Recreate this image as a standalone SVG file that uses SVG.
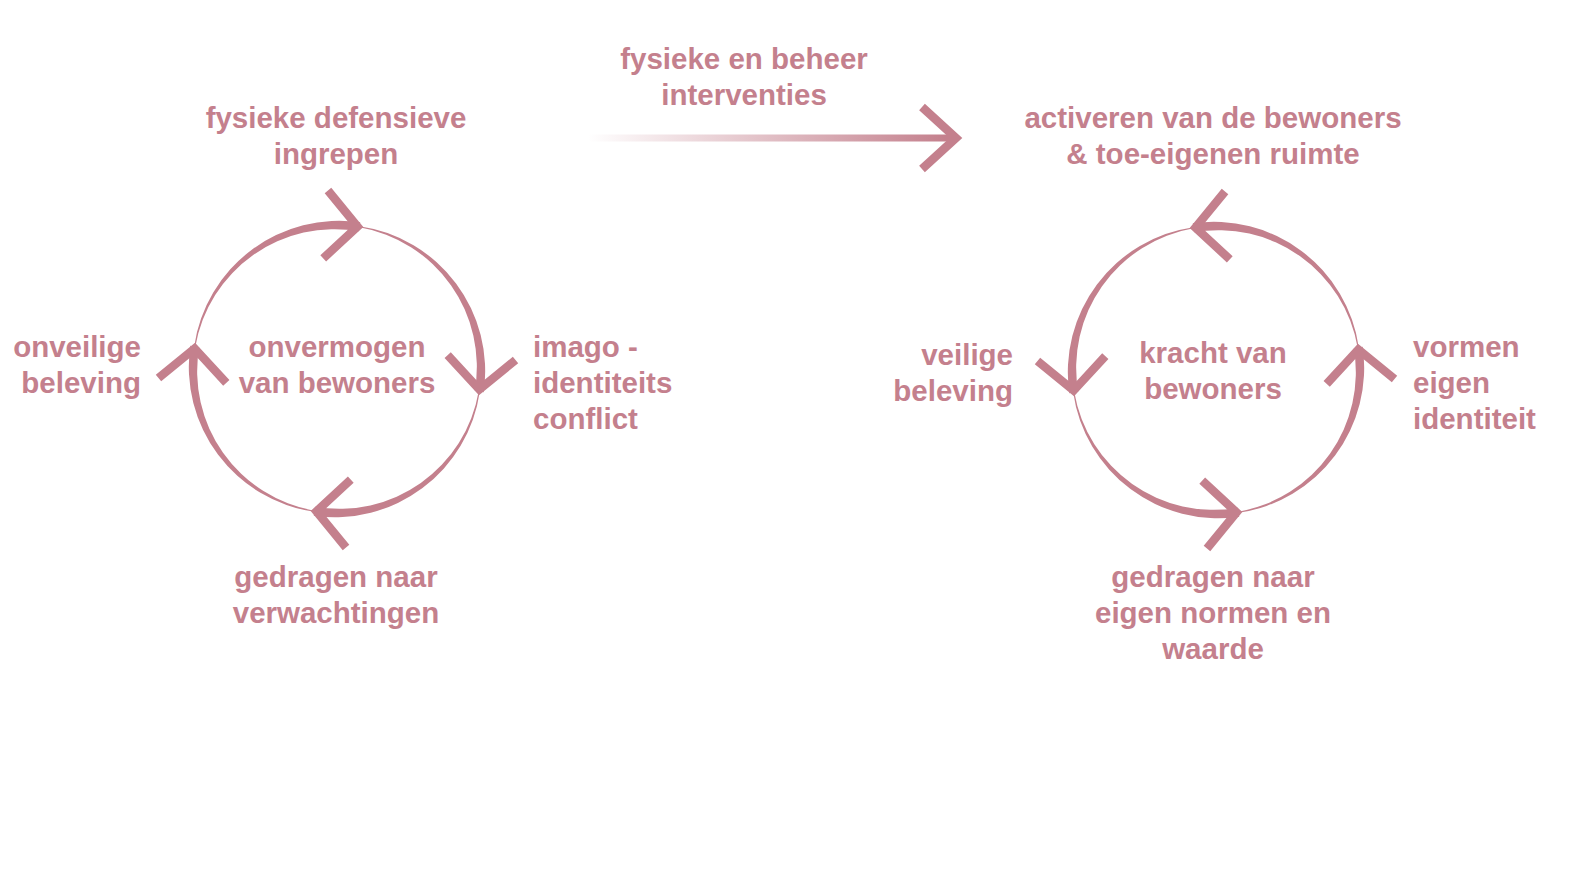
<svg xmlns="http://www.w3.org/2000/svg" xmlns:xlink="http://www.w3.org/1999/xlink" width="1572" height="873" viewBox="0 0 1572 873">
<style>
.t{font-family:"Liberation Sans",Arial,sans-serif;font-weight:bold;font-size:29.5px;fill:#c4808d}
.m{text-anchor:middle}
.e{text-anchor:end}
.arc{fill:#c4808d;stroke:none}
.chev{fill:none;stroke:#c4808d;stroke-width:8.5;stroke-linejoin:miter;stroke-linecap:butt}
</style>
<defs>
<linearGradient id="fade" gradientUnits="userSpaceOnUse" x1="588" y1="0" x2="945" y2="0">
<stop offset="0" stop-color="#c4808d" stop-opacity="0"/>
<stop offset="1" stop-color="#c4808d" stop-opacity="1"/>
</linearGradient>
<path id="chv" d="M -34,-34 L -2,0 L -34,34"/>
<g id="cycle">
<path class="arc" d="M -142.82,-22.62 A 146.55 146.55 0 0 1 23.23,-146.67 L 21.82,-137.78 A 141.45 141.45 0 0 0 -141.63,-22.43 Z"/>
<path class="arc" d="M 22.62,-142.82 A 146.55 146.55 0 0 1 146.67,23.23 L 137.78,21.82 A 141.45 141.45 0 0 0 22.43,-141.63 Z"/>
<path class="arc" d="M 142.82,22.62 A 146.55 146.55 0 0 1 -23.23,146.67 L -21.82,137.78 A 141.45 141.45 0 0 0 141.63,22.43 Z"/>
<path class="arc" d="M -22.62,142.82 A 146.55 146.55 0 0 1 -146.67,-23.23 L -137.78,-21.82 A 141.45 141.45 0 0 0 -22.43,141.63 Z"/>
<use xlink:href="#chv" class="chev" transform="translate(22.52,-142.23) rotate(4)"/>
<use xlink:href="#chv" class="chev" transform="translate(142.23,22.52) rotate(94)"/>
<use xlink:href="#chv" class="chev" transform="translate(-22.52,142.23) rotate(184)"/>
<use xlink:href="#chv" class="chev" transform="translate(-142.23,-22.52) rotate(274)"/>
</g>
</defs>
<rect width="1572" height="873" fill="#ffffff"/>
<g id="connectors">
<use xlink:href="#cycle" transform="translate(337,369)"/>
<use xlink:href="#cycle" transform="translate(1216,370) scale(-1,1)"/>
<g id="transition-arrow">
<line x1="588" y1="138" x2="954" y2="138" stroke="url(#fade)" stroke-width="7"/>
<path d="M 922,107 L 956,138 L 922,169" class="chev"/>
</g>
</g>
<g id="node-interventies"><text class="t m" x="744" y="69">fysieke en beheer</text><text class="t m" x="744" y="105">interventies</text></g>
<g id="node-fysieke"><text class="t m" x="336" y="128">fysieke defensieve</text><text class="t m" x="336" y="164">ingrepen</text></g>
<g id="node-onvermogen"><text class="t m" x="337" y="357">onvermogen</text><text class="t m" x="337" y="393">van bewoners</text></g>
<g id="node-onveilige"><text class="t e" x="141" y="357">onveilige</text><text class="t e" x="141" y="393">beleving</text></g>
<g id="node-imago"><text class="t" x="533" y="357">imago -</text><text class="t" x="533" y="393">identiteits</text><text class="t" x="533" y="429">conflict</text></g>
<g id="node-verwachtingen"><text class="t m" x="336" y="587">gedragen naar</text><text class="t m" x="336" y="623">verwachtingen</text></g>
<g id="node-activeren"><text class="t m" x="1213" y="128">activeren van de bewoners</text><text class="t m" x="1213" y="164">&amp; toe-eigenen ruimte</text></g>
<g id="node-kracht"><text class="t m" x="1213" y="363">kracht van</text><text class="t m" x="1213" y="399">bewoners</text></g>
<g id="node-veilige"><text class="t e" x="1013" y="365">veilige</text><text class="t e" x="1013" y="401">beleving</text></g>
<g id="node-vormen"><text class="t" x="1413" y="357">vormen</text><text class="t" x="1413" y="393">eigen</text><text class="t" x="1413" y="429">identiteit</text></g>
<g id="node-normen"><text class="t m" x="1213" y="587">gedragen naar</text><text class="t m" x="1213" y="623">eigen normen en</text><text class="t m" x="1213" y="659">waarde</text></g>
</svg>
